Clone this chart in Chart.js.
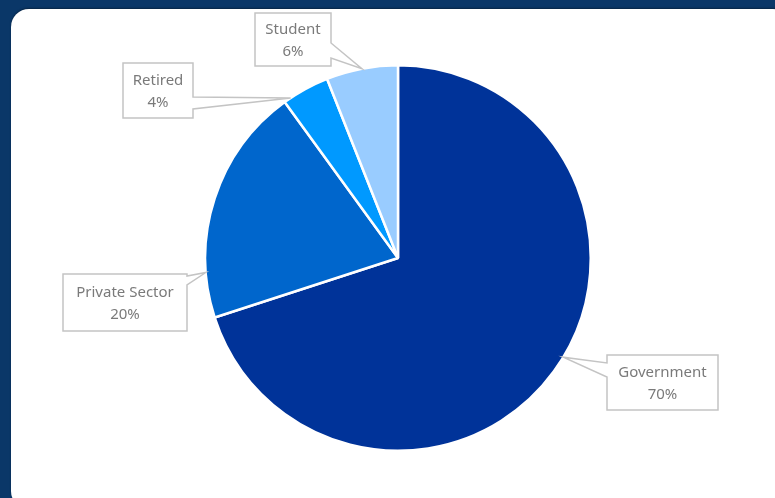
<!DOCTYPE html>
<html>
<head>
<meta charset="utf-8">
<script src="https://cdn.jsdelivr.net/npm/chart.js@4"></script>
<style>
    html, body { margin: 0; padding: 0; background: #0a3768; overflow: hidden; }
    .card {
        position: absolute; left: 11px; top: 9px; width: 780px; height: 500px;
        background: #fff; border-radius: 18px;
        box-shadow: 0 -1px 2px rgba(0,0,0,0.35);
    }
    .wrap { position: absolute; left: 0; top: 0; width: 775px; height: 498px; }
</style>
</head>
<body>
<div class="card"></div>
<div class="wrap"><canvas id="pie-chart"></canvas></div>
<script>
const categories = ['Government', 'Private Sector', 'Retired', 'Student'];
const shares = [70, 20, 4, 6];
const sliceColors = ['#003399', '#0066cc', '#0099ff', '#99ccff'];

// ------------------- Callout boxes ------------------
// box: x, y, w, h ; side the pointer leaves from ; base y's ; tip as fraction along the slice
const callouts = [
    { x: 607, y: 355, w: 111, h: 55, side: 'left',  b1: 363, b2: 377, frac: 0.48 },
    { x: 63,  y: 274, w: 124, h: 57, side: 'right', b1: 276, b2: 285, frac: 0.19 },
    { x: 123, y: 63,  w: 70,  h: 55, side: 'right', b1: 97,  b2: 109, frac: 0.15 },
    { x: 255, y: 13,  w: 76,  h: 53, side: 'right', b1: 43,  b2: 58,  frac: 0.5 }
];

const calloutPlugin = {
    id: 'callouts',
    afterDatasetsDraw(chart) {
        const ctx = chart.ctx;
        const arcs = chart.getDatasetMeta(0).data;
        arcs.forEach((arc, i) => {
            const c = callouts[i];
            const a = arc.startAngle + (arc.endAngle - arc.startAngle) * c.frac;
            const tx = arc.x + Math.cos(a) * arc.outerRadius;
            const ty = arc.y + Math.sin(a) * arc.outerRadius;
            const l = c.x, r = c.x + c.w, t = c.y, b = c.y + c.h;

            ctx.save();
            ctx.beginPath();
            ctx.moveTo(l, t);
            ctx.lineTo(r, t);
            if (c.side === 'right') {
                ctx.lineTo(r, c.b1);
                ctx.lineTo(tx, ty);
                ctx.lineTo(r, c.b2);
            }
            ctx.lineTo(r, b);
            ctx.lineTo(l, b);
            if (c.side === 'left') {
                ctx.lineTo(l, c.b2);
                ctx.lineTo(tx, ty);
                ctx.lineTo(l, c.b1);
            }
            ctx.closePath();
            ctx.fillStyle = '#ffffff';
            ctx.fill();
            ctx.lineWidth = 1.5;
            ctx.strokeStyle = '#c4c4c4';
            ctx.stroke();

            ctx.fillStyle = '#7a7a7a';
            ctx.font = '15px "Noto Sans"';
            ctx.textAlign = 'center';
            ctx.textBaseline = 'middle';
            const cx = l + c.w / 2;
            const cy = t + c.h / 2;
            ctx.fillText(categories[i], cx, cy - 10);
            ctx.fillText(shares[i] + '%', cx, cy + 12);
            ctx.restore();
        });
    }
};

function pieChartSector() {
    const data = {
        labels: categories,
        datasets: [{
            data: shares,
            backgroundColor: sliceColors,
            borderColor: '#ffffff',
            borderWidth: 2.5
        }]
    };

    // ------------------- Chart Options ------------------
    const chartOptions = {
        responsive: true,
        maintainAspectRatio: false,
        animation: false,
        layout: {
            padding: { top: 64, bottom: 46, left: 21, right: 0 }
        },
        plugins: {
            legend: { display: false },
            tooltip: { enabled: false }
        }
    };

    // ------------------- Chart Config ------------------
    const config = {
        type: 'pie',
        data: data,
        options: chartOptions,
        plugins: [calloutPlugin]
    };

    // ------------------- Initialize Chart ------------------
    const myChart = new Chart(
        document.getElementById('pie-chart'),
        config
    );
}

pieChartSector();
</script>
</body>
</html>
